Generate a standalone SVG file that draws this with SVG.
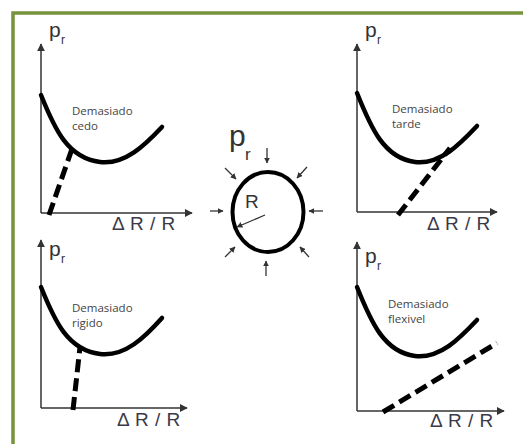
<svg xmlns="http://www.w3.org/2000/svg" width="523" height="444" viewBox="0 0 523 444">
<style>
.frame{fill:none;stroke:#77933c;stroke-width:3.5}
.axis{fill:none;stroke:#333;stroke-width:1.5}
.curve{fill:none;stroke:#000;stroke-width:4.5;stroke-linecap:round}
.dash{fill:none;stroke:#000;stroke-width:5;stroke-dasharray:13,6}
.lbl{font-family:"Open Sans","Liberation Sans",sans-serif;font-size:11.5px;fill:#444}
.ax{font-family:"Liberation Sans",Arial,sans-serif;font-size:19px;fill:#3a3a48;letter-spacing:0.5px}
.pr{font-family:"Liberation Sans",Arial,sans-serif;font-size:21px;fill:#333}
.sub{font-family:"Liberation Sans",Arial,sans-serif;font-size:12px;fill:#333}
.small{fill:none;stroke:#333;stroke-width:1.3}
</style>
<defs>
<marker id="ah" viewBox="0 0 10 10" refX="9" refY="5" markerWidth="8" markerHeight="8" markerUnits="userSpaceOnUse" orient="auto">
<path d="M0,0 L10,5 L0,10 z" fill="#333"/>
</marker>
<marker id="sh" viewBox="0 0 10 10" refX="9" refY="5" markerWidth="6" markerHeight="6" markerUnits="userSpaceOnUse" orient="auto">
<path d="M0,0 L10,5 L0,10 z" fill="#333"/>
</marker>
</defs>
<rect width="523" height="444" fill="#fff"/>
<path class="frame" d="M13,444 V13 H523"/>

<g id="graph-cedo">
<path class="axis" d="M41,213 V44" marker-end="url(#ah)"/>
<path class="axis" d="M41,213 H192" marker-end="url(#ah)"/>
<text class="pr" x="49" y="37">p</text><text class="sub" x="61" y="44">r</text>
<text class="ax" x="112" y="230">Δ R / R</text>
<path class="curve" d="M41,95 C55,130 68,158 100,162 C125,165 145,145 162,127"/>
<path class="dash" d="M49,215 L73,146"/>
<text class="lbl" x="72" y="115">Demasiado</text>
<text class="lbl" x="72" y="130">cedo</text>
</g>

<g id="graph-tarde">
<path class="axis" d="M357,212 V44" marker-end="url(#ah)"/>
<path class="axis" d="M357,212 H497" marker-end="url(#ah)"/>
<text class="pr" x="365" y="37">p</text><text class="sub" x="377" y="44">r</text>
<text class="ax" x="427" y="230">Δ R / R</text>
<path class="curve" d="M357,93 C371,128 384,158 415,162 C440,165 460,144 477,126"/>
<path class="dash" d="M398,215 L450,148"/>
<text class="lbl" x="392" y="113">Demasiado</text>
<text class="lbl" x="392" y="128">tarde</text>
</g>

<g id="graph-rigido">
<path class="axis" d="M41,408 V240" marker-end="url(#ah)"/>
<path class="axis" d="M41,408 H187" marker-end="url(#ah)"/>
<text class="pr" x="49" y="256">p</text><text class="sub" x="61" y="263">r</text>
<text class="ax" x="117" y="426">Δ R / R</text>
<path class="curve" d="M41,287 C55,322 68,350 100,354 C125,357 145,337 162,318"/>
<path class="dash" d="M73,410 L80,347"/>
<text class="lbl" x="72" y="312">Demasiado</text>
<text class="lbl" x="72" y="327">rigido</text>
</g>

<g id="graph-flexivel">
<path class="axis" d="M357,411 V242" marker-end="url(#ah)"/>
<path class="axis" d="M357,411 H504" marker-end="url(#ah)"/>
<text class="pr" x="365" y="263">p</text><text class="sub" x="377" y="270">r</text>
<text class="ax" x="430" y="427">Δ R / R</text>
<path class="curve" d="M357,287 C371,322 384,352 415,356 C440,359 460,338 477,320"/>
<path class="dash" d="M383,412 L497,343"/>
<text class="lbl" x="388" y="308">Demasiado</text>
<text class="lbl" x="388" y="323">flexivel</text>
</g>

<g id="ring">
<text font-family="Liberation Sans,Arial,sans-serif" font-size="30" fill="#333" x="229" y="146">p</text>
<text font-family="Liberation Sans,Arial,sans-serif" font-size="17" fill="#333" x="245" y="160">r</text>
<ellipse cx="268" cy="212" rx="35.5" ry="40" fill="none" stroke="#000" stroke-width="4"/>
<text font-family="Liberation Sans,Arial,sans-serif" font-size="19" fill="#333" x="245" y="208">R</text>
<path class="small" d="M265,215 L237,227" marker-end="url(#sh)"/>
</g>

<g id="connectors">
<path class="small" d="M267,148 V163" marker-end="url(#sh)"/>
<path class="small" d="M266,276 V261" marker-end="url(#sh)"/>
<path class="small" d="M210,211 H223" marker-end="url(#sh)"/>
<path class="small" d="M323,211 H309" marker-end="url(#sh)"/>
<path class="small" d="M225,168 L236,179" marker-end="url(#sh)"/>
<path class="small" d="M307,167 L297,178" marker-end="url(#sh)"/>
<path class="small" d="M225,257 L235,247" marker-end="url(#sh)"/>
<path class="small" d="M309,257 L300,247" marker-end="url(#sh)"/>
</g>
</svg>
